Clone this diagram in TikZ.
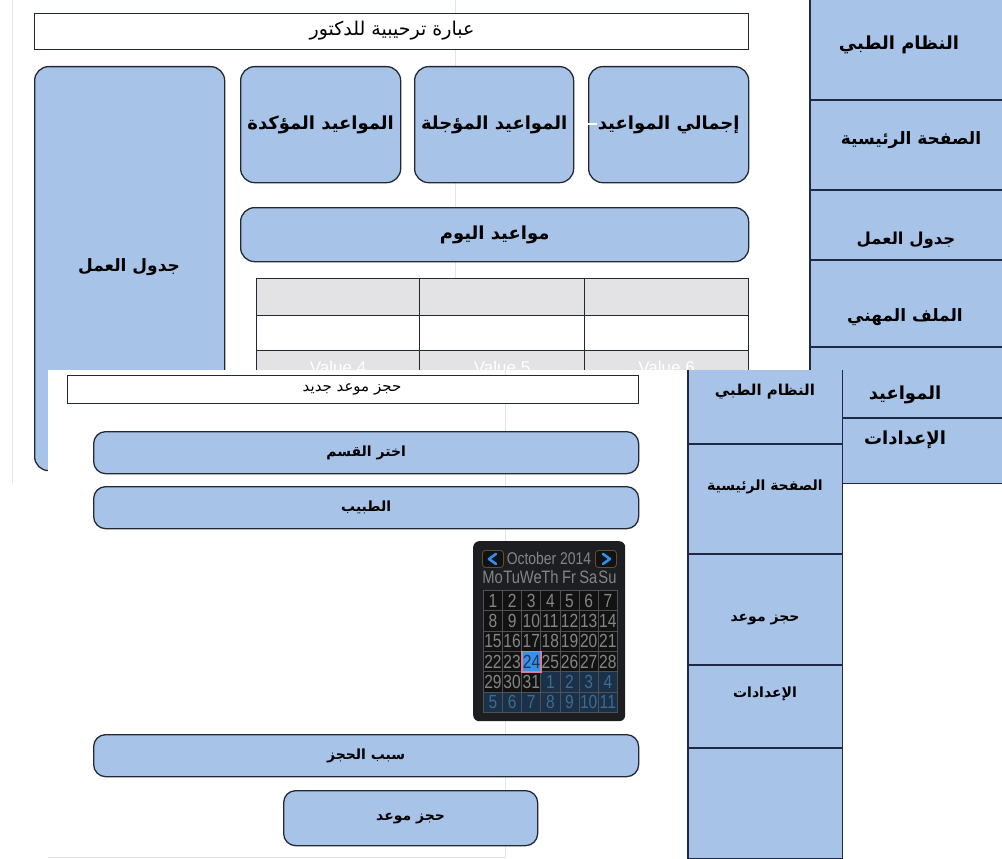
\documentclass[tikz,border=0pt]{standalone}
\usepackage{fontspec}
\setmainfont{Liberation Sans}
\newfontfamily\arabicfont[Script=Arabic]{DejaVu Sans}
\newfontfamily\calfont[FakeStretch=0.82]{Liberation Sans}
\TeXXeTstate=1
\definecolor{boxblue}{HTML}{A8C3E8}
\definecolor{edge}{HTML}{232835}
\definecolor{navy}{HTML}{1F2845}
\definecolor{faint}{HTML}{E2E4E8}
\definecolor{tgray}{HTML}{E3E3E6}
\definecolor{calbg}{HTML}{1D1E22}
\definecolor{cellbg}{HTML}{121212}
\definecolor{cellline}{HTML}{505154}
\definecolor{celltext}{HTML}{858585}
\definecolor{nextbg}{HTML}{1A3149}
\definecolor{nexttext}{HTML}{3F6B8D}
\definecolor{selbg}{HTML}{3A8FE6}
\definecolor{selline}{HTML}{E07C98}
\definecolor{seltext}{HTML}{123A66}
\definecolor{chev}{HTML}{2F8FEA}
\definecolor{btnedge}{HTML}{5E4E34}
\newcommand{\artxt}[1]{\beginR #1\endR}
\tikzset{
  rbox/.style={draw=edge, fill=boxblue, line width=1.3pt, rounded corners=14pt, inner sep=0pt, anchor=north west},
  tbar/.style={draw=edge, fill=white, line width=1.1pt, inner sep=0pt, anchor=north west},
  sect/.style={fill=boxblue, inner sep=0pt, anchor=north west},
  sline/.style={draw=navy, line width=1.3pt},
  big/.style={font=\arabicfont\bfseries\fontsize{18}{20}\selectfont},
  sidebig/.style={font=\arabicfont\bfseries\fontsize{17}{19}\selectfont},
  mid/.style={font=\arabicfont\bfseries\fontsize{14}{16}\selectfont},
  plain/.style={font=\arabicfont\fontsize{19}{21}\selectfont},
  small/.style={font=\arabicfont\fontsize{15}{17}\selectfont},
  lbl/.style={inner sep=0pt},
  tcell/.style={draw=edge, line width=1.2pt, inner sep=0pt, anchor=north west},
  cell/.style={draw=cellline, line width=0.8pt, fill=cellbg, text=celltext, inner sep=0pt,
    anchor=north west, minimum width=19.143pt, minimum height=20.33pt,
    font=\calfont\fontsize{19}{19}\selectfont},
  calhead/.style={text=celltext, inner sep=0pt, font=\calfont\fontsize{18}{18}\selectfont},
  navbtn/.style={draw=btnedge, fill=cellbg, line width=0.9pt, rounded corners=3pt, inner sep=0pt,
    anchor=north west, minimum width=21pt, minimum height=17pt},
  chevron/.style={draw=chev, line width=2.6pt, line cap=round, line join=round},
  faintline/.style={draw=faint, line width=1pt}
}
\begin{document}
\begin{tikzpicture}[x=1pt,y=-1pt]
\useasboundingbox (0,0) rectangle (1002,859);
\fill[white] (0,0) rectangle (1002,859);
% ---------- screenshot 1 ----------
\draw[faintline] (12,0) -- (12,483);
\draw[faintline] (455,0) -- (455,370);
\node[tbar, minimum width=714pt, minimum height=36pt] (title1) at (34,13) {};
\node[lbl, plain] (title1t) at (392,31) {\artxt{عبارة ترحيبية للدكتور}};
\node[rbox, minimum width=190pt, minimum height=404pt] (work) at (34,66) {};
\node[lbl, font=\arabicfont\bfseries\fontsize{17}{19}\selectfont] (workt) at (129,267) {\artxt{جدول العمل}};
\node[rbox, minimum width=160pt, minimum height=116pt, big] (b1) at (240,66) {\artxt{المواعيد المؤكدة}};
\node[rbox, minimum width=159pt, minimum height=116pt, big] (b2) at (414,66) {\artxt{المواعيد المؤجلة}};
\node[rbox, minimum width=160pt, minimum height=116pt, big] (b3) at (588,66) {\artxt{إجمالي المواعيد}};
\draw[white, line width=2pt] ([xshift=2pt,yshift=1pt]b2.east) -- ([xshift=9pt,yshift=1pt]b3.west);
\node[rbox, minimum width=508pt, minimum height=54pt, big] (today) at (240,207) {\artxt{مواعيد اليوم}};
% table
\node[tcell, fill=tgray, minimum width=163pt, minimum height=37pt] (t00) at (256,278) {};
\node[tcell, fill=tgray, minimum width=165pt, minimum height=37pt] (t01) at (419,278) {};
\node[tcell, fill=tgray, minimum width=164pt, minimum height=37pt] (t02) at (584,278) {};
\node[tcell, fill=white, minimum width=163pt, minimum height=35pt] (t10) at (256,315) {};
\node[tcell, fill=white, minimum width=165pt, minimum height=35pt] (t11) at (419,315) {};
\node[tcell, fill=white, minimum width=164pt, minimum height=35pt] (t12) at (584,315) {};
\node[tcell, fill=tgray, text=white, minimum width=163pt, minimum height=34pt, font=\fontsize{17}{17}\selectfont] (t20) at (256,350) {Value 4};
\node[tcell, fill=tgray, text=white, minimum width=165pt, minimum height=34pt, font=\fontsize{17}{17}\selectfont] (t21) at (419,350) {Value 5};
\node[tcell, fill=tgray, text=white, minimum width=164pt, minimum height=34pt, font=\fontsize{17}{17}\selectfont] (t22) at (584,350) {Value 6};
% sidebar 1
\node[sect, minimum width=200pt, minimum height=100pt] (sa) at (810,0) {};
\node[sect, minimum width=200pt, minimum height=90pt] (sb) at (810,100) {};
\node[sect, minimum width=200pt, minimum height=70pt] (sc) at (810,190) {};
\node[sect, minimum width=200pt, minimum height=87pt] (sd) at (810,260) {};
\node[sect, minimum width=200pt, minimum height=71pt] (se) at (810,347) {};
\node[sect, minimum width=200pt, minimum height=65pt] (sf) at (810,418) {};
\draw[sline] (sa.north west) -- (sf.south west) -- (sf.south east);
\foreach \s in {sb,sc,sd,se,sf} \draw[sline] (\s.north west) -- (\s.north east);
\node[lbl, font=\arabicfont\bfseries\fontsize{18}{20}\selectfont] (sat) at (899,45) {\artxt{النظام الطبي}};
\node[lbl, sidebig] (sbt) at (911,140) {\artxt{الصفحة الرئيسية}};
\node[lbl, font=\arabicfont\bfseries\fontsize{16.5}{19}\selectfont] (sct) at (906,240) {\artxt{جدول العمل}};
\node[lbl, sidebig] (sdt) at (905,317) {\artxt{الملف المهني}};
\node[lbl, big] (set) at (905,395) {\artxt{المواعيد}};
\node[lbl, big] (sft) at (905,440) {\artxt{الإعدادات}};
% ---------- screenshot 2 ----------
\node[fill=white, inner sep=0pt, anchor=north west, minimum width=794pt, minimum height=489pt] (shot2) at (48,370) {};
\draw[faintline] (505,370) -- (505,857) -- (48,857);
\node[tbar, minimum width=571pt, minimum height=28pt] (title2) at (67,375) {};
\node[lbl, small] (title2t) at (352,389) {\artxt{حجز موعد جديد}};
\node[rbox, rounded corners=12pt, minimum width=545pt, minimum height=42pt, mid] (dept) at (93,431) {\artxt{اختر القسم}};
\node[rbox, rounded corners=12pt, minimum width=545pt, minimum height=42pt, mid] (doc) at (93,486) {\artxt{الطبيب}};
\node[rbox, rounded corners=12pt, minimum width=545pt, minimum height=42pt, mid] (reason) at (93,734) {\artxt{سبب الحجز}};
\node[rbox, rounded corners=12pt, minimum width=254pt, minimum height=55pt, mid] (book) at (283,790) {\artxt{حجز موعد}};
% calendar
\node[fill=calbg, rounded corners=6pt, inner sep=0pt, anchor=north west, minimum width=152pt, minimum height=180pt] (cal) at (473,541) {};
\node[navbtn] (prev) at (482,550) {};
\node[navbtn] (next) at (595,550) {};
\draw[chevron] ([xshift=3pt,yshift=5pt]prev.center) -- ([xshift=-4pt]prev.center) -- ([xshift=3pt,yshift=-5pt]prev.center);
\draw[chevron] ([xshift=-3pt,yshift=5pt]next.center) -- ([xshift=4pt]next.center) -- ([xshift=-3pt,yshift=-5pt]next.center);
\node[calhead, font=\calfont\fontsize{17}{17}\selectfont] (month) at (549,558) {October 2014};
\foreach \d [count=\c from 0] in {Mo,Tu,We,Th,Fr,Sa,Su}{
  \node[calhead] (wd\c) at ({483+(\c+0.5)*19.143},577) {\d};
}
\foreach \r in {0,...,5}{
  \foreach \c in {0,...,6}{
    \pgfmathtruncatemacro{\n}{\r*7+\c+1}
    \pgfmathsetmacro{\cx}{483+\c*19.143}
    \pgfmathsetmacro{\cy}{590+\r*20.33}
    \ifnum\n>31
      \pgfmathtruncatemacro{\m}{\n-31}
      \node[cell, fill=nextbg, text=nexttext] (d\r\c) at (\cx,\cy) {\m};
    \else
      \ifnum\n=24
        \node[cell] (d\r\c) at (\cx,\cy) {};
      \else
        \node[cell] (d\r\c) at (\cx,\cy) {\n};
      \fi
    \fi
  }
}
\node[cell, fill=selbg, draw=selline, line width=1.4pt, text=seltext] (sel) at (d32.north west) {24};
% sidebar 2
\node[sect, minimum width=154pt, minimum height=74pt] (pa) at (688,370) {};
\node[sect, minimum width=154pt, minimum height=110pt] (pb) at (688,444) {};
\node[sect, minimum width=154pt, minimum height=111pt] (pc) at (688,554) {};
\node[sect, minimum width=154pt, minimum height=83pt] (pd) at (688,665) {};
\node[sect, minimum width=154pt, minimum height=110pt] (pe) at (688,748) {};
\draw[sline] (pa.north west) -- (pe.south west) -- (pe.south east) -- (pa.north east);
\foreach \s in {pb,pc,pd,pe} \draw[sline] (\s.north west) -- (\s.north east);
\node[lbl, font=\arabicfont\bfseries\fontsize{15}{17}\selectfont] (pat) at (765,392) {\artxt{النظام الطبي}};
\node[lbl, mid] (pbt) at (765,487) {\artxt{الصفحة الرئيسية}};
\node[lbl, mid] (pct) at (765,620) {\artxt{حجز موعد}};
\node[lbl, mid] (pdt) at (765,694) {\artxt{الإعدادات}};
\end{tikzpicture}
\end{document}
